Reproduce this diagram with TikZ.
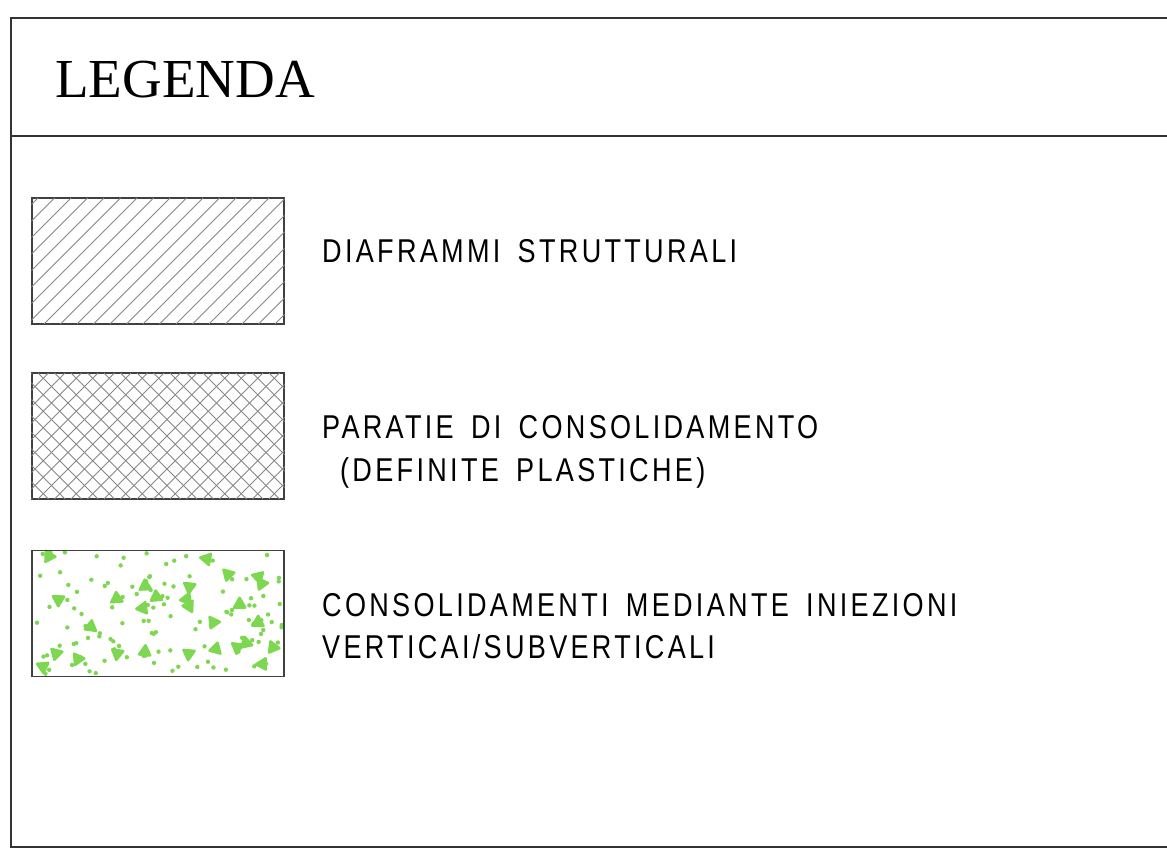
\documentclass[tikz,border=0pt]{standalone}
\usepackage{fontspec}
\setmainfont{Liberation Serif}
\newfontfamily\legfont[FakeStretch=0.82,LetterSpace=10,WordSpace=1.6]{Liberation Sans}
\usetikzlibrary{positioning}
\definecolor{consol}{RGB}{125,215,80}
\definecolor{hatchgray}{RGB}{135,135,135}

\begin{document}
\begin{tikzpicture}
  [x=1pt,y=-1pt,
   frame/.style={draw=black!80,line width=1.2pt},
   legbox/.style={draw=black!75,line width=1.1pt,minimum width=252pt,minimum height=126pt,inner sep=0pt},
   legtext/.style={font=\legfont\fontsize{33}{40}\selectfont,inner sep=0pt,anchor=base west},
   hatch/.style={draw=hatchgray,line width=1pt}]
  \useasboundingbox (0,0) rectangle (1167,861);

  % frame and title
  \coordinate (tl) at (11,18);
  \coordinate (tr) at (1168,18);
  \coordinate (hl) at (11,136);
  \coordinate (hr) at (1168,136);
  \coordinate (bl) at (11,847);
  \coordinate (br) at (1168,847);
  \draw[frame] (tr) -- (tl) -- (bl) -- (br);
  \draw[frame] (hl) -- (hr);
  \node[font=\fontsize{55}{60}\selectfont,inner sep=0pt,anchor=base west] (title) at (55,98) {LEGENDA};

  % legend boxes
  \node[legbox] (box1) at (158,261) {};
  \node[legbox] (box2) at (158,436) {};
  \node[legbox] (box3) at (158,613.5) {};

  \begin{scope}
    \clip (box1.south west) rectangle (box1.north east);
    \foreach \a in {-88,-71.5,...,290}
      \draw[hatch] (\a,324) -- ++(126,-126);
  \end{scope}

  \begin{scope}
    \clip (box2.south west) rectangle (box2.north east);
    \foreach \a in {-94,-77.5,...,290} {
      \draw[hatch] (\a,499) -- ++(126,-126);
      \draw[hatch] (\a,373) -- ++(126,126);
    }
  \end{scope}

  % injections: scattered dots and small triangles
  \pgfmathsetseed{4213}
  \foreach \i in {1,...,115} {
    \pgfmathsetmacro\px{34+248*rnd}
    \pgfmathsetmacro\py{552+122*rnd}
    \fill[consol] (\px,\py) circle (2.2);
  }
  \foreach \i in {1,...,28} {
    \pgfmathsetmacro\px{38+242*rnd}
    \pgfmathsetmacro\py{554+118*rnd}
    \pgfmathsetmacro\ang{360*rnd}
    \fill[consol,line join=round,draw=consol,line width=2.5pt]
      (\px,\py) +(\ang:6.5) -- +(\ang+120:6.5) -- +(\ang+240:6.5) -- cycle;
  }
  \node[legbox] (box3b) at (box3) {};

  % descriptions
  \node[legtext] (diaf) at (322,262) {DIAFRAMMI STRUTTURALI};
  \node[legtext] (para) at (322,438) {PARATIE DI CONSOLIDAMENTO};
  \node[legtext] (parb) at (340,481) {(DEFINITE PLASTICHE)};
  \node[legtext] (cona) at (322,616) {CONSOLIDAMENTI MEDIANTE INIEZIONI};
  \node[legtext] (conb) at (322,658) {VERTICAI/SUBVERTICALI};
\end{tikzpicture}
\end{document}
